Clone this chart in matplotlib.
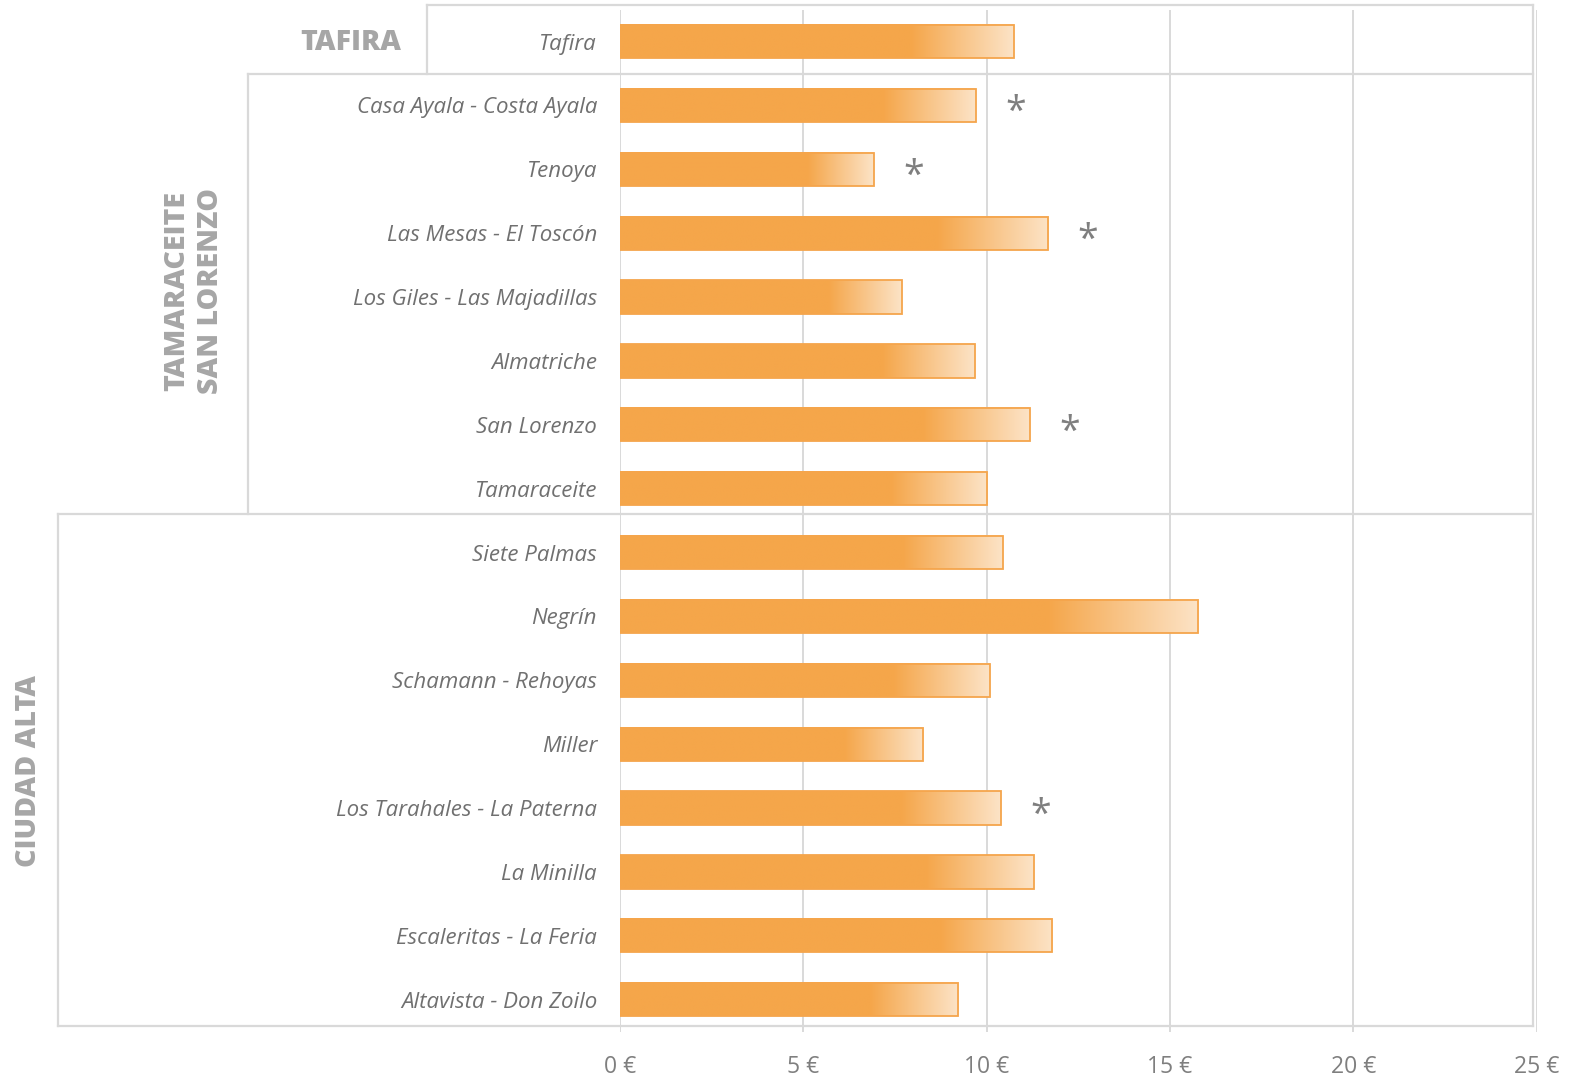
import numpy as np
import matplotlib
matplotlib.use("Agg")
import matplotlib.pyplot as plt
from matplotlib.colors import LinearSegmentedColormap
from matplotlib.transforms import blended_transform_factory
from matplotlib.lines import Line2D
from matplotlib.patches import Rectangle

plt.rcParams["font.family"] = ["Open Sans", "DejaVu Sans"]

# ---------------- data ----------------
categories = ["Tafira", "Casa Ayala - Costa Ayala", "Tenoya", "Las Mesas - El Toscón",
              "Los Giles - Las Majadillas", "Almatriche", "San Lorenzo", "Tamaraceite",
              "Siete Palmas", "Negrín", "Schamann - Rehoyas", "Miller",
              "Los Tarahales - La Paterna", "La Minilla", "Escaleritas - La Feria",
              "Altavista - Don Zoilo"]
values = [10.74, 9.70, 6.92, 11.68, 7.69, 9.67, 11.18, 10.00,
          10.44, 15.77, 10.08, 8.27, 10.38, 11.29, 11.79, 9.23]
flags = ["", "*", "*", "*", "", "", "*", "",
         "", "", "", "", "*", "", "", ""]
groups = ["TAFIRA", "TAMARACEITE\nSAN LORENZO", "CIUDAD ALTA"]
group_sizes = [1, 7, 8]
x_ticks = [0, 5, 10, 15, 20, 25]
x_tick_labels = ["0 €", "5 €", "10 €", "15 €", "20 €", "25 €"]

# ---------------- style ----------------
W, H = 1578, 1079
SOLID = "#F5A64A"
LIGHT = "#FCE3C6"
EDGE = "#F5A54C"
GRID = "#D9D9D9"
LABEL = "#707070"
TICK = "#7F7F7F"
GROUPC = "#A6A6A6"

fig = plt.figure(figsize=(W / 100, H / 100), dpi=100)
ax = fig.add_axes([620 / W, 1 - 1031.6 / H, (1536.7 - 620) / W, (1031.6 - 9.6) / H])

cmap = LinearSegmentedColormap.from_list("grad", [(0, SOLID), (0.74, SOLID), (1.0, LIGHT)])
grad = np.linspace(0, 1, 256).reshape(1, -1)
bh = 0.52
for i, (v, f) in enumerate(zip(values, flags)):
    ax.imshow(grad, cmap=cmap, extent=(0, v, i + bh / 2, i - bh / 2), aspect="auto",
              interpolation="bilinear", zorder=2)
    ax.add_patch(Rectangle((0, i - bh / 2), v, bh, facecolor="none", edgecolor=EDGE,
                           lw=1.3, zorder=3))
    if f:
        ax.annotate(f, (v, i), xytext=(28.5, -5.5), textcoords="offset points",
                    ha="center", va="center", fontsize=27, color=TICK, zorder=4)

ax.set_xlim(0, 25)
ax.set_ylim(len(categories) - 0.5, -0.5)
for t in x_ticks:
    ax.axvline(t, color=GRID, lw=1.4, zorder=0)
for s in ax.spines.values():
    s.set_visible(False)
ax.set_xticks(x_ticks)
ax.set_xticklabels(x_tick_labels, fontsize=16.5, color=TICK)
ax.set_yticks(range(len(categories)))
ax.set_yticklabels(categories, fontsize=16, color=LABEL, fontstyle="italic")
ax.tick_params(axis="x", length=0, pad=17)
ax.tick_params(axis="y", length=0, pad=16.5)

# ---------------- group boxes ----------------
tr = blended_transform_factory(fig.transFigure, ax.transData)
bounds = np.concatenate([[0], np.cumsum(group_sizes)]) - 0.5
yoff = [-0.07, 0.01, -0.11, -0.08]
ylines = [b + o for b, o in zip(bounds, yoff)]
box_left_px = [426.7, 247.7, 58.3]
right_px = 1533.3
label_x_px = [351, 193.5, 28.5]
label_dy = [0.02, -0.1, -0.08]
lw_box = 1.6
for g in range(len(groups)):
    xl = box_left_px[g] / W
    fig.add_artist(Line2D([xl, right_px / W], [ylines[g], ylines[g]], transform=tr,
                          color=GRID, lw=lw_box, zorder=5, solid_capstyle="projecting"))
    fig.add_artist(Line2D([xl, xl], [ylines[g], ylines[g + 1]], transform=tr,
                          color=GRID, lw=lw_box, zorder=5, solid_capstyle="projecting"))
    ymid = (bounds[g] + bounds[g + 1]) / 2 + label_dy[g]
    rot = 0 if g == 0 else 90
    fig.text(label_x_px[g] / W, ymid, groups[g], transform=tr, rotation=rot,
             ha="center", va="center", fontsize=20.5, fontweight="heavy", color=GROUPC,
             linespacing=1.2, multialignment="center")
fig.add_artist(Line2D([box_left_px[-1] / W, right_px / W], [ylines[-1], ylines[-1]], transform=tr,
                      color=GRID, lw=lw_box, zorder=5, solid_capstyle="projecting"))
fig.add_artist(Line2D([right_px / W, right_px / W], [ylines[0], ylines[-1]], transform=tr,
                      color=GRID, lw=lw_box, zorder=5, solid_capstyle="projecting"))

fig.savefig("out.png", dpi=100, facecolor="white")
